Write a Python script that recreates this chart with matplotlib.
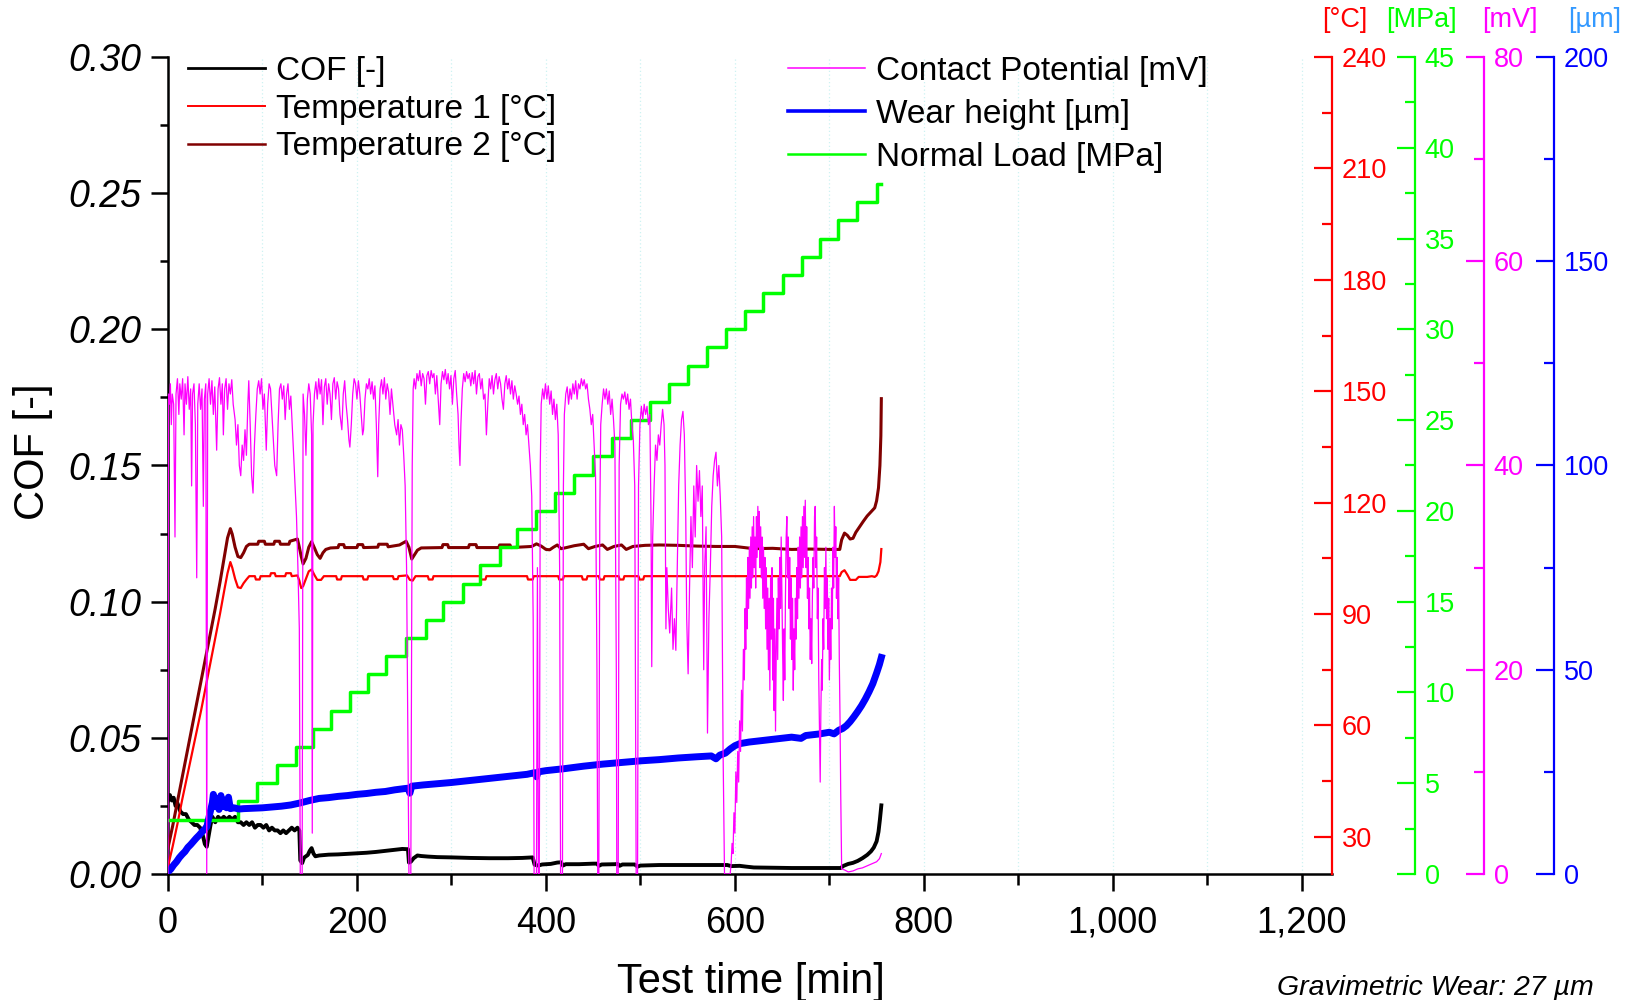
import matplotlib
matplotlib.use("Agg")
import matplotlib.pyplot as plt
from matplotlib.ticker import MultipleLocator, FuncFormatter, FormatStrFormatter

plt.rcParams['font.family'] = ['Liberation Sans', 'DejaVu Sans']

# ---------------------------------------------------------------- data
# coefficient of friction [-] over test time [min]
cof_pts = [(0, 0.027), (2, 0.029), (4, 0.027), (6, 0.028), (8, 0.025), (10, 0.026), (13, 0.023),
           (16, 0.022), (19, 0.022), (22, 0.020), (25, 0.019), (28, 0.018), (31, 0.018), (34, 0.017),
           (37, 0.014), (39, 0.011), (41, 0.010), (43, 0.014), (45, 0.018), (47, 0.021), (50, 0.019),
           (53, 0.021), (56, 0.020), (59, 0.021), (62, 0.020), (65, 0.021), (68, 0.020), (71, 0.021),
           (74, 0.019), (77, 0.019), (80, 0.018), (83, 0.019), (86, 0.018), (89, 0.019), (92, 0.017),
           (95, 0.018), (98, 0.018), (101, 0.017), (104, 0.018), (107, 0.016), (110, 0.017), (113, 0.016),
           (116, 0.016), (119, 0.015), (122, 0.016), (125, 0.015), (128, 0.016), (131, 0.017), (134, 0.016),
           (137, 0.017), (139, 0.016), (140, 0.005), (142, 0.004), (144, 0.006), (146, 0.0065), (148, 0.007),
           (150, 0.0085), (152, 0.0095), (154, 0.0075), (156, 0.0065), (160, 0.0068), (170, 0.0071),
           (180, 0.0072), (190, 0.0074), (200, 0.0076), (210, 0.0078), (220, 0.0081), (230, 0.0085),
           (240, 0.0089), (248, 0.0092), (254, 0.0091), (255, 0.0042), (257, 0.0045), (260, 0.0058),
           (264, 0.0068), (268, 0.0066), (275, 0.0064), (285, 0.0062), (300, 0.0061), (320, 0.0059),
           (340, 0.0058), (360, 0.0058), (375, 0.0059), (386, 0.0061), (388, 0.0034), (392, 0.0031),
           (396, 0.0035), (405, 0.0037), (412, 0.0042), (416, 0.0043), (418, 0.0031), (421, 0.0036),
           (435, 0.0036), (450, 0.0038), (454, 0.0038), (456, 0.0030), (459, 0.0035), (473, 0.0036),
           (476, 0.0037), (478, 0.0030), (481, 0.0035), (494, 0.0035), (497, 0.0027), (500, 0.0031),
           (520, 0.0033), (550, 0.0033), (580, 0.0033), (592, 0.0033), (596, 0.0029), (605, 0.0030),
           (612, 0.0027), (620, 0.0024), (640, 0.0023), (660, 0.0022), (690, 0.0022), (712, 0.0022),
           (715, 0.0030), (720, 0.0037), (725, 0.0041), (730, 0.0048), (735, 0.0058), (740, 0.0070),
           (744, 0.0083), (747, 0.0097), (750, 0.0120), (752, 0.0155), (753.5, 0.0200), (755, 0.0252)]

# temperature 1 [°C]
temp1_pts = [(0, 22), (5, 27.5), (10, 33.5), (15, 40), (20, 46), (25, 52), (30, 58), (35, 64), (40, 70.5),
             (45, 77), (50, 83.5), (55, 90), (60, 97), (63, 101), (66, 104), (68, 102.5), (71, 99.5),
             (74, 97.2), (77, 97.0), (80, 98.3), (83, 99.3), (86, 100.2), (92, 100.2), (93, 99.3), (97, 99.3),
             (98, 100.2), (108, 100.2), (109, 101.0), (113, 101.0), (114, 100.2), (124, 100.2), (125, 101.0),
             (130, 101.0), (131, 100.2), (137, 100.4), (139, 99.0), (141, 97.0), (143, 97.5), (146, 99.5),
             (149, 101.5), (152, 102.0), (155, 100.5), (158, 99.2), (162, 99.2), (165, 100.2), (178, 100.2),
             (179, 99.3), (183, 99.3), (184, 100.2), (206, 100.2), (207, 99.3), (211, 99.3), (212, 100.2),
             (238, 100.2), (239, 99.4), (243, 99.4), (244, 100.2), (253, 100.4), (256, 99.2), (259, 99.0),
             (262, 100.2), (275, 100.2), (276, 99.3), (280, 99.3), (281, 100.2), (330, 100.2), (331, 99.3),
             (336, 99.3), (337, 100.2), (380, 100.2), (381, 99.3), (386, 99.3), (387, 100.2), (413, 100.2),
             (414, 99.3), (418, 99.3), (419, 100.2), (438, 100.2), (439, 99.3), (443, 99.3), (444, 100.2),
             (456, 100.2), (457, 99.3), (461, 99.3), (462, 100.2), (477, 100.2), (478, 99.3), (482, 99.3),
             (483, 100.2), (498, 100.2), (499, 99.3), (503, 99.3), (504, 100.2), (600, 100.2), (711, 100.2),
             (713, 101.3), (716, 101.8), (719, 100.6), (722, 99.2), (728, 99.2), (731, 100.0), (740, 100.0),
             (745, 100.2), (748, 100.0), (750, 100.4), (752, 101.5), (754, 104), (755, 107.5)]

# temperature 2 [°C]
temp2_pts = [(0, 27), (5, 33), (10, 39.5), (15, 46), (20, 52.5), (25, 59), (30, 65.5), (35, 72), (40, 78.5),
             (45, 85), (50, 91.5), (55, 98.5), (60, 106), (63, 110.5), (66, 113), (68, 111.5), (71, 108),
             (74, 105.5), (77, 105.2), (80, 106.5), (83, 108.2), (86, 108.8), (95, 108.8), (96, 109.6),
             (102, 109.6), (103, 108.8), (112, 108.8), (113, 109.6), (118, 109.6), (119, 108.8), (128, 108.8),
             (129, 109.6), (137, 110.2), (139, 108), (141, 105.5), (143, 103.5), (146, 105), (149, 108),
             (152, 109.5), (155, 107.8), (158, 106), (161, 105), (164, 106.5), (167, 107.4), (172, 107.8),
             (180, 107.9), (181, 108.7), (186, 108.7), (187, 107.9), (200, 107.9), (201, 108.7), (206, 108.7),
             (207, 107.9), (222, 108.0), (223, 108.8), (232, 108.8), (233, 108.1), (245, 108.6), (252, 109.6),
             (255, 108), (258, 104.8), (261, 106), (264, 107.2), (268, 107.8), (290, 107.9), (291, 108.7),
             (296, 108.7), (297, 107.9), (318, 107.9), (319, 108.7), (326, 108.7), (327, 107.9), (350, 107.9),
             (351, 108.6), (362, 108.6), (363, 107.9), (385, 108.2), (390, 108.9), (395, 108.3), (400, 107.4),
             (404, 107.3), (408, 108.0), (412, 108.6), (416, 107.6), (420, 107.8), (430, 108.4), (440, 108.8),
             (445, 107.6), (452, 108.2), (460, 108.6), (465, 107.4), (472, 108.2), (480, 108.6), (485, 107.4),
             (492, 108.2), (505, 108.5), (520, 108.6), (540, 108.5), (560, 108.3), (580, 108.2), (600, 108.2),
             (620, 107.6), (640, 107.7), (660, 107.4), (680, 107.5), (700, 107.4), (711, 107.4), (713, 110.0),
             (716, 111.8), (719, 111.2), (722, 110.2), (725, 110.4), (728, 112.0), (732, 113.5), (736, 115.0),
             (740, 116.4), (744, 117.5), (748, 118.6), (750, 120.5), (752, 124), (753.5, 130), (754.5, 138),
             (755, 148)]

# normal load steps [MPa]: time at which each level starts
load_t = [0, 74, 94, 115, 136, 154, 173, 193, 212, 231, 252, 273, 291, 312, 330, 351, 369, 390, 410,
          430, 450, 470, 490, 510, 530, 550, 570, 591, 611, 630, 651, 671, 690, 709, 729, 750, 755]
load_mpa = [3, 4, 5, 6, 7, 8, 9, 10, 11, 12, 13, 14, 15, 16, 17, 18, 19, 20, 21,
            22, 23, 24, 25, 26, 27, 28, 29, 30, 31, 32, 33, 34, 35, 36, 37, 38, 38]

# wear height [µm]
wear_pts = [(0, 0.5), (3, 1.2), (6, 2.2), (9, 3.0), (12, 4.0), (15, 4.8), (18, 5.5), (21, 6.5), (24, 7.2),
            (27, 8.0), (30, 8.8), (33, 9.5), (36, 10.3), (39, 11.0), (41, 11.5), (43, 13.5), (45, 15.5),
            (47, 17.5), (48, 19.5), (50, 16.5), (52, 18.5), (54, 15.8), (56, 19.2), (58, 16.5), (60, 17.5),
            (62, 16.2), (64, 18.8), (66, 16.0), (70, 16.2), (75, 15.9), (80, 16.0), (90, 16.1), (100, 16.2),
            (110, 16.4), (120, 16.6), (130, 16.9), (140, 17.4), (150, 18.0), (160, 18.5), (170, 18.7),
            (180, 19.0), (190, 19.2), (200, 19.5), (210, 19.7), (220, 20.0), (230, 20.2), (240, 20.6),
            (250, 20.9), (254, 21.0), (256, 19.8), (258, 21.5), (270, 21.8), (280, 22.0), (290, 22.2),
            (300, 22.4), (320, 22.9), (340, 23.4), (360, 23.9), (380, 24.4), (388, 24.8), (390, 23.8),
            (392, 25.0), (400, 25.3), (420, 25.8), (440, 26.4), (460, 26.9), (480, 27.3), (500, 27.7),
            (520, 28.0), (540, 28.4), (560, 28.7), (575, 28.9), (580, 28.2), (584, 29.1), (590, 29.6),
            (595, 30.6), (600, 31.4), (605, 31.9), (615, 32.3), (630, 32.7), (645, 33.1), (660, 33.5),
            (670, 33.2), (675, 33.9), (690, 34.3), (700, 34.7), (705, 34.3), (710, 35.2), (714, 35.6),
            (718, 36.3), (722, 37.3), (726, 38.5), (730, 39.8), (734, 41.2), (738, 42.8), (742, 44.6),
            (746, 46.6), (750, 49.2), (753, 51.3), (755, 53.0)]

# contact potential [mV]
cp_pts = [
    (0, 0), (0.5, 47), (1.5, 46), (2.5, 48), (3.5, 44), (4.5, 47), (6, 46), (7.4, 33), (8.5, 47), (10, 48.5),
    (11.5, 45), (12.5, 48), (14, 46.5), (15.5, 48.5), (17, 43), (18, 48), (19.5, 46), (21, 48.7), (22.5, 45.5),
    (24, 47.5), (25, 38), (26, 47), (27.5, 48), (29, 44), (30.4, 29), (31.5, 46), (33, 48), (34.5, 45.5),
    (36, 47.5), (37.4, 36), (38.5, 46.5), (40, 48), (41, 0), (42, 47), (43.5, 48.5), (45, 46), (46.5, 48.3),
    (48, 45), (49.5, 47.7), (51.5, 41.5), (53, 47.5), (54.5, 48.6), (56, 46), (57.5, 48), (58.6, 43),
    (60, 47.5), (61.5, 48.5), (63, 45.5), (64.5, 48), (66, 47), (67.5, 48.4), (69, 46), (71, 44.5),
    (72.5, 42), (74, 44), (75.5, 40), (77, 39), (78.5, 42), (80, 40.5), (81.5, 43.5), (83, 41), (84.5, 46),
    (85.5, 48.3), (87, 44), (88.5, 39), (90, 37.3), (91.5, 42), (93, 45), (94.5, 47.5), (96, 48.3),
    (97.5, 47), (99, 48.5), (100.5, 45.5), (102, 47), (104, 41.5), (105.5, 46), (107, 48), (108.5, 47.5),
    (110, 45), (111.5, 42.5), (113, 40), (115, 39), (116.5, 44), (118, 47.5), (119.5, 48), (121, 46.5),
    (122.5, 47.8), (124, 44.5), (125.5, 47), (127, 48), (128.5, 45.5), (130, 46.8), (131.5, 44), (133, 41),
    (134.5, 38), (136, 35), (137.5, 30), (139, 24), (140, 0), (142, 0), (143, 47), (144.5, 45), (146, 41),
    (147.5, 46.5), (149, 48), (150.5, 47), (152, 43), (152.7, 4), (153.5, 44), (155, 47),
    (156.5, 48.2), (158, 46.5), (159.5, 48.5), (161, 47), (162.5, 48.4), (164, 44), (165.5, 47.7),
    (167, 48.5), (168.5, 46), (170, 48), (171.5, 47), (173, 44.5), (174.5, 48), (176, 48.6), (177.5, 46.5),
    (179, 48.2), (180.5, 47.5), (182, 45), (184, 43.5), (185.5, 47), (187, 48.3), (188.5, 46), (190, 44.5),
    (191.5, 42.5), (192.5, 41.8), (194, 44), (195.5, 47), (197, 48.5), (198.5, 48), (200, 46.5),
    (201.5, 48.3), (203, 47), (204.5, 45), (206, 43), (207, 43.5), (208.5, 46.5), (210, 48), (211.5, 47.5),
    (213, 48.5), (214.5, 47), (216, 48.2), (217.5, 46.5), (219, 47.8), (220.5, 44), (222, 38.9), (223, 44),
    (224.5, 47.5), (226, 48.4), (227.5, 47), (229, 48.6), (230.5, 46.5), (232, 48), (233.5, 47.2),
    (235, 45), (236.5, 47.5), (238, 46), (240, 44), (242, 43), (243.5, 44.5), (245, 42), (246.5, 44),
    (248, 43.5), (249.5, 41), (251, 38), (252.5, 30), (254, 12), (255, 0), (257, 0), (258.5, 40),
    (259.5, 47.5), (260.5, 48.5),
    (262, 47.5), (263.5, 49), (265, 48.3), (266.5, 49.3), (268, 47.8), (269.5, 49), (271, 48.5), (272.5, 46),
    (274, 48.8), (275.5, 49.2), (277, 48), (278.5, 49.3), (280, 48.6), (281.5, 49), (283, 47), (284.5, 48.8),
    (286, 46.5), (287.6, 44), (289, 48), (290.5, 49.2), (292, 48.4), (293.5, 49.4), (295, 48), (296.5, 49),
    (298, 47.5), (299.5, 48.8), (301, 46), (302.5, 48.5), (304, 49.3), (305.5, 47), (307, 45), (308, 42),
    (309, 40), (310, 44), (311.5, 47.5), (313, 49), (314.5, 48.2), (316, 49.2), (317.5, 48.5), (319, 49),
    (320.5, 47.8), (322, 49.1), (323.5, 48), (325, 49.3), (326.5, 47), (328, 48.7), (329.5, 49),
    (331, 47.5), (332.5, 48.5), (334, 46.5), (335.5, 47), (337, 43), (338.5, 46), (340, 48.5),
    (341.5, 47.5), (343, 48.8), (344.5, 47), (346, 48.4), (347.5, 49), (349, 47.5), (350.5, 48.7),
    (352, 48), (353.5, 46.5), (355, 45.5), (356.5, 48), (358, 48.8), (359.5, 47.5), (361, 48.5),
    (362.5, 47), (364, 48.3), (365.5, 46.5), (367, 47.8), (368.5, 47), (370, 46), (371.5, 46.8), (373, 45),
    (374.5, 46), (376, 44), (377.5, 45), (379, 43), (380.5, 44), (382, 42), (383.5, 40), (385, 37),
    (386.5, 25), (387.5, 0), (390, 0), (391, 30), (392, 0), (393, 0), (394, 40), (395, 46), (396.5, 47.5),
    (398, 46.5), (399.5, 48),
    (401, 46.5), (402.5, 47.8), (404, 46), (405.5, 47.3), (407, 45), (408.5, 46.5), (410, 44.5),
    (411.5, 46), (413, 43), (414.5, 30), (415.5, 0), (417.5, 0), (418.5, 38), (419.5, 45), (421, 47),
    (422.5, 47.7), (424, 46), (425.5, 47.5), (427, 46.5), (428.5, 48), (430, 47), (431.5, 48.3),
    (433, 46.5), (434.5, 48), (436, 47.5), (437.5, 48.5), (439, 47.8), (440.5, 48.4), (442, 47.5),
    (443.5, 48), (445, 46.5), (446.5, 45.5), (448, 44), (449.5, 45), (451, 42), (452.5, 39), (454, 20),
    (454.8, 0), (456, 0), (457, 35), (458, 44), (459.5, 46), (461, 47.5), (462.5, 46.5), (464, 47.5),
    (465.5, 46), (467, 47.3), (468.5, 45), (470, 46.5), (471.5, 44.5), (473, 42), (474.5, 20), (475, 0),
    (476.5, 0), (477.5, 40), (479, 46), (480.5, 47), (482, 46.5), (483.5, 47.2), (485, 46), (486.5, 47),
    (488, 45.5), (489.5, 46.5), (491, 44), (492.5, 42.5), (494, 38), (495.5, 0), (497, 0), (498, 38),
    (499.5, 44), (501, 45.8), (502.5, 44.5), (504, 46), (505.5, 45), (507, 45.8), (508.5, 44), (510, 45),
    (511.2, 35), (512, 20.3), (513, 33), (514.5, 38), (516, 42), (517.5, 40.5), (519, 43), (520.5, 42),
    (522, 44), (523.5, 45.5), (525, 44), (526, 40), (527, 24), (528, 30), (529.5, 26), (531, 23.6),
    (533, 28), (534.5, 22), (536, 25), (537.5, 21.9), (539, 30), (540.5, 38), (542, 42), (543.5, 44.5),
    (545, 45.3), (546.5, 43), (548, 35), (549, 25), (550.5, 19.6), (552, 28), (553.5, 35), (555, 30),
    (556.5, 38), (558, 33), (559.5, 40), (561, 36.5), (562.5, 39.5), (564, 35), (565.5, 38), (567, 20),
    (568, 30), (569.5, 34), (571, 13.8), (572.5, 25), (574, 30), (575.5, 36), (577, 39), (578.5, 40.5),
    (580, 41.3), (581.5, 38), (583, 40), (584.5, 37), (586, 33), (587.5, 12), (589, 0), (595, 0),
    (596, 1), (597, 3), (598, 2), (599, 6), (600, 4), (601, 10), (602, 7), (603, 12), (604, 9), (605, 15),
    (606, 12), (607, 18), (608, 14), (609, 22), (610, 19), (610.8, 26), (611.5, 22), (612.3, 29), (613, 24),
    (613.8, 31), (614.5, 26), (615.3, 32), (616, 27), (616.8, 33), (617.5, 28), (618.3, 34), (619, 29),
    (619.8, 35), (620.5, 30), (621.3, 33), (622, 28), (622.8, 35), (623.5, 31), (624.3, 36), (625, 32),
    (625.8, 35.5), (626.5, 30), (627.3, 34), (628, 29), (628.8, 33), (629.5, 27), (630.3, 32), (631, 26),
    (631.8, 31), (632.5, 24), (633.3, 30), (634, 22), (634.8, 28), (635.5, 20), (636.3, 27), (637, 18),
    (637.8, 29), (638.5, 23), (639.3, 30), (640, 19), (640.8, 27), (641.5, 16), (642.3, 24), (643, 14),
    (643.8, 22), (644.5, 27), (645.3, 21), (646, 29), (646.8, 24), (647.5, 31), (648.3, 26), (649, 33),
    (649.8, 27), (650.5, 22), (651.3, 17), (652, 24), (652.8, 19), (653.5, 27), (654.3, 33), (655, 35),
    (655.8, 29), (656.5, 33), (657.3, 26), (658, 31), (658.8, 23), (659.5, 29), (660.3, 21), (661, 27),
    (661.8, 18), (662.5, 24), (663.3, 20), (664, 27), (664.8, 23), (665.5, 30), (666.3, 25), (667, 32),
    (667.8, 27), (668.5, 33), (669.3, 28), (670, 34), (670.8, 29), (671.5, 35), (672.3, 30), (673, 36),
    (673.8, 31), (674.5, 36.6), (675.3, 30), (676, 34), (676.8, 27), (677.5, 31), (678.3, 24), (679, 28),
    (679.8, 21), (680.5, 25), (681.3, 20.6), (682, 27), (682.8, 31), (683.5, 28), (684.3, 35), (685, 36),
    (685.8, 30), (686.5, 33), (687.3, 25), (688, 28), (688.8, 19), (689.5, 14), (690.3, 9), (691, 16),
    (691.8, 21), (692.5, 18), (693.3, 25), (694, 22), (694.8, 30), (695.5, 26), (696.3, 32), (697, 25),
    (697.8, 29), (698.5, 22), (699.3, 27), (700, 19), (700.8, 25), (701.5, 21), (702.3, 28), (703, 24),
    (703.8, 32), (704.5, 28), (705.3, 36), (706, 31), (706.8, 34), (707.5, 27), (708.3, 31), (709, 25),
    (709.8, 29), (710.5, 21), (711.3, 15), (712, 8), (713, 0.5),
    (716, 0.4), (720, 0.2), (725, 0.3), (730, 0.5), (735, 0.6), (740, 0.8), (745, 1.0), (750, 1.2),
    (753, 1.5), (755, 2.0)]

# ---------------------------------------------------------------- colours
C_COF = 'black'
C_T1 = '#ff0000'
C_T2 = '#800000'
C_LOAD = '#00ff00'
C_CP = '#ff00ff'
C_WEAR = '#0000ff'
C_WEAR_UNIT = '#3399ff'


def split(points):
    return [p[0] for p in points], [p[1] for p in points]


fig = plt.figure(figsize=(16.39, 10), dpi=100)
ax = fig.add_axes([0.1025, 0.126, 0.7102, 0.817])

ax_temp = ax.twinx()
ax_load = ax.twinx()
ax_wear = ax.twinx()
ax_cp = ax.twinx()

# ---------------------------------------------------------------- curves
t, v = split(cof_pts)
h_cof, = ax.plot(t, v, color=C_COF, lw=2.8, label='COF [-]')

t, v = split(temp1_pts)
h_t1, = ax_temp.plot(t, v, color=C_T1, lw=1.6, label='Temperature 1 [°C]')
t, v = split(temp2_pts)
h_t2, = ax_temp.plot(t, v, color=C_T2, lw=2.2, label='Temperature 2 [°C]')

h_load, = ax_load.plot(load_t, load_mpa, color=C_LOAD, lw=2.5, drawstyle='steps-post',
                       label='Normal Load [MPa]')

t, v = split(wear_pts)
h_wear, = ax_wear.plot(t, v, color=C_WEAR, lw=5.0, label='Wear height [µm]')

t, v = split(cp_pts)
h_cp, = ax_cp.plot(t, v, color=C_CP, lw=0.9, label='Contact Potential [mV]')

# ---------------------------------------------------------------- main axes
ax.set_xlim(0, 1232)
ax.set_ylim(0, 0.30)
ax.xaxis.set_major_locator(MultipleLocator(200))
ax.xaxis.set_minor_locator(MultipleLocator(100))
ax.xaxis.set_major_formatter(FuncFormatter(lambda v, p: f'{v:,.0f}'))
ax.yaxis.set_major_locator(MultipleLocator(0.05))
ax.yaxis.set_minor_locator(MultipleLocator(0.025))
ax.yaxis.set_major_formatter(FormatStrFormatter('%.2f'))
ax.spines['top'].set_visible(False)
ax.spines['right'].set_visible(False)
for s in ('left', 'bottom'):
    ax.spines[s].set_linewidth(1.8)
ax.tick_params(axis='y', which='major', direction='out', length=12, width=1.8,
               labelsize=27, pad=7)
ax.tick_params(axis='x', which='major', direction='out', length=12, width=1.8,
               labelsize=26, pad=11)
ax.tick_params(axis='y', which='minor', direction='out', length=6, width=1.8)
ax.tick_params(axis='x', which='minor', direction='out', length=8, width=1.8)
for lab in ax.get_yticklabels():
    lab.set_fontstyle('italic')
ax.grid(True, axis='x', which='both', color='#cdf2f2', linestyle=(0, (1, 2)), linewidth=0.9)
ax.set_axisbelow(True)

# ---------------------------------------------------------------- secondary axes
right_axes = [
    (ax_temp, C_T1, (20, 240), 30, 15, None),
    (ax_load, C_LOAD, (0, 45), 5, 2.5, 1.0713),
    (ax_cp, C_CP, (0, 80), 20, 10, 1.1306),
    (ax_wear, C_WEAR, (0, 200), 50, 25, 1.1907),
]
for a, col, lim, major, minor, pos in right_axes:
    for s in ('left', 'top', 'bottom'):
        a.spines[s].set_visible(False)
    if pos is not None:
        a.spines['right'].set_position(('axes', pos))
    a.spines['right'].set_color(col)
    a.spines['right'].set_linewidth(1.6)
    a.set_ylim(*lim)
    a.yaxis.set_major_locator(MultipleLocator(major))
    a.yaxis.set_minor_locator(MultipleLocator(minor))
    a.tick_params(axis='y', which='major', direction='in', length=13, width=1.6,
                  colors=col, labelsize=19.5, pad=7)
    a.tick_params(axis='y', which='minor', direction='in', length=7.5, width=1.6, colors=col)

# unit headers above the secondary axes
fig.text(0.8207, 0.980, '[°C]', color=C_T1, fontsize=19.5, ha='center', va='center')
fig.text(0.8674, 0.980, '[MPa]', color=C_LOAD, fontsize=19.5, ha='center', va='center')
fig.text(0.9210, 0.980, '[mV]', color=C_CP, fontsize=19.5, ha='center', va='center')
fig.text(0.9732, 0.980, '[µm]', color=C_WEAR_UNIT, fontsize=19.5, ha='center', va='center')

# axis titles
fig.text(0.020, 0.548, 'COF [-]', fontsize=30, rotation=90, ha='center', va='center')
fig.text(0.458, 0.018, 'Test time [min]', fontsize=30, ha='center', va='center')
fig.text(0.8755, 0.012, 'Gravimetric Wear: 27 µm', fontsize=20.5, fontstyle='italic',
         ha='center', va='center')

# legends
legend_widths = {'COF [-]': 2.0, 'Temperature 1 [°C]': 1.4, 'Temperature 2 [°C]': 1.8,
                 'Contact Potential [mV]': 1.1, 'Wear height [µm]': 2.6, 'Normal Load [MPa]': 1.8}
leg1 = fig.legend(handles=[h_cof, h_t1, h_t2], loc='upper left', bbox_to_anchor=(0.1147, 0.944),
                  bbox_transform=fig.transFigure, frameon=False, fontsize=24, borderpad=0,
                  borderaxespad=0, labelspacing=0.2, handlelength=2.3, handletextpad=0.35)
leg2 = fig.legend(handles=[h_cp, h_wear, h_load], loc='upper left', bbox_to_anchor=(0.4808, 0.944),
                  bbox_transform=fig.transFigure, frameon=False, fontsize=24, borderpad=0,
                  borderaxespad=0, labelspacing=0.36, handlelength=2.3, handletextpad=0.35)
for leg in (leg1, leg2):
    for line, txt in zip(leg.get_lines(), leg.get_texts()):
        line.set_linewidth(legend_widths[txt.get_text()])

fig.savefig('out.png', dpi=100, facecolor='white')
